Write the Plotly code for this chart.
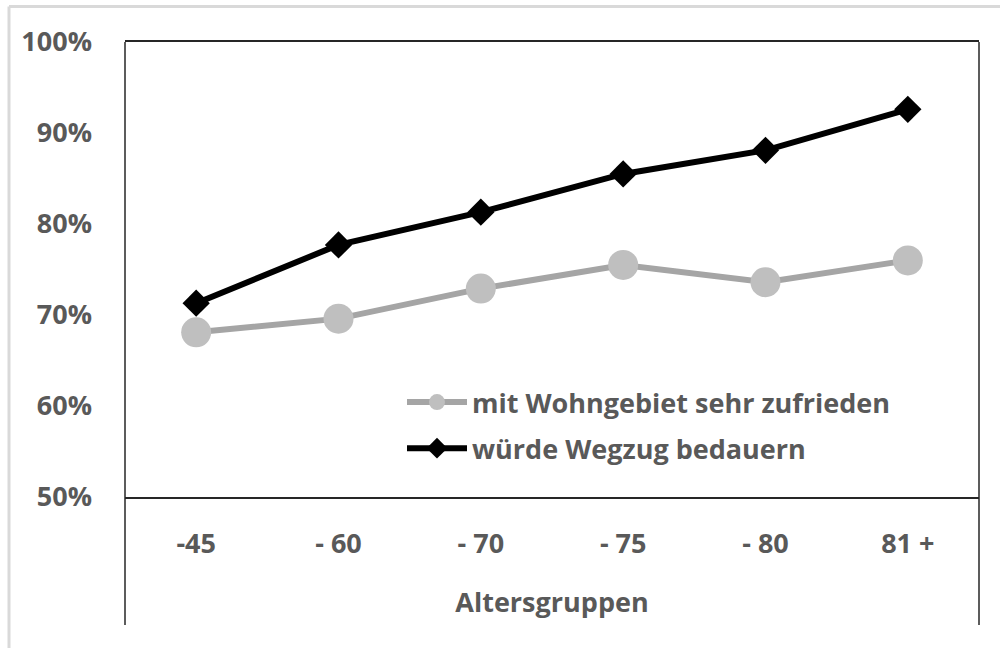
import plotly.graph_objects as go

categories = ["-45", "- 60", "- 70", "- 75", "- 80", "81 +"]
zufrieden = [68.1, 69.6, 72.9, 75.5, 73.6, 76.0]
wegzug = [71.3, 77.7, 81.3, 85.5, 88.1, 92.6]
y_ticks = [50, 60, 70, 80, 90, 100]
y_tick_labels = ["50%", "60%", "70%", "80%", "90%", "100%"]
x_title = "Altersgruppen"
names = ["mit Wohngebiet sehr zufrieden", "würde Wegzug bedauern"]

FONT = "Open Sans"
TXT = "#595959"
FS = 27
WT = 700

W, H = 1000, 648
L, R, T, B = 125, 979, 42, 497

def px(x):
    return (x - L) / (R - L)

def py(y):
    return (B - y) / (B - T)

fig = go.Figure()
fig.add_trace(go.Scatter(
    x=categories, y=zufrieden, name=names[0], mode="lines+markers",
    line=dict(color="#a5a5a5", width=6),
    marker=dict(symbol="circle", size=30, color="#bfbfbf"),
    legendgroup="a", cliponaxis=False,
))
fig.add_trace(go.Scatter(
    x=categories, y=wegzug, name=names[1], mode="lines+markers",
    line=dict(color="#000000", width=6),
    marker=dict(symbol="diamond", size=21, color="#000000"),
    legendgroup="b", cliponaxis=False,
))

shapes = [
    dict(type="line", xref="paper", yref="paper", x0=0, x1=0, y0=1, y1=py(625),
         line=dict(color="#262626", width=1.5)),
    dict(type="line", xref="paper", yref="paper", x0=1, x1=1, y0=1, y1=py(625),
         line=dict(color="#262626", width=1.5)),
    dict(type="line", xref="paper", yref="paper", x0=px(9), x1=px(1000), y0=py(6.5), y1=py(6.5),
         line=dict(color="#d9d9d9", width=3)),
    dict(type="line", xref="paper", yref="paper", x0=px(9), x1=px(9), y0=py(6.5), y1=py(648),
         line=dict(color="#d9d9d9", width=3)),
]

fig.update_layout(
    width=W, height=H,
    margin=dict(l=L, r=W - R, t=T, b=H - B, pad=0),
    paper_bgcolor="white", plot_bgcolor="white",
    font=dict(family=FONT, size=FS, color=TXT, weight=WT),
    showlegend=True,
    legend=dict(
        x=px(402), y=py(378), xanchor="left", yanchor="top",
        bgcolor="rgba(0,0,0,0)", tracegroupgap=8,
        font=dict(family=FONT, size=FS, color=TXT, weight=WT),
        itemwidth=60,
    ),
    shapes=shapes,
)
fig.update_xaxes(
    type="category", range=[-0.5, 5.5],
    showline=True, linecolor="#262626", linewidth=1.5, mirror=True,
    showgrid=False, ticks="", ticklabelstandoff=22,
    tickfont=dict(family=FONT, size=FS, color=TXT, weight=WT),
    title=dict(text=x_title, standoff=33,
               font=dict(family=FONT, size=27, color=TXT, weight=WT)),
)
fig.update_yaxes(
    range=[50, 100], tickvals=y_ticks, ticktext=y_tick_labels, showgrid=False, zeroline=False,
    showline=False, ticks="", ticklabelstandoff=32,
    tickfont=dict(family=FONT, size=FS, color=TXT, weight=WT),
)

fig.write_html(
    "out.html",
    config={"displayModeBar": False},
    post_script="document.body.style.margin='0';document.body.style.overflow='hidden';",
)
